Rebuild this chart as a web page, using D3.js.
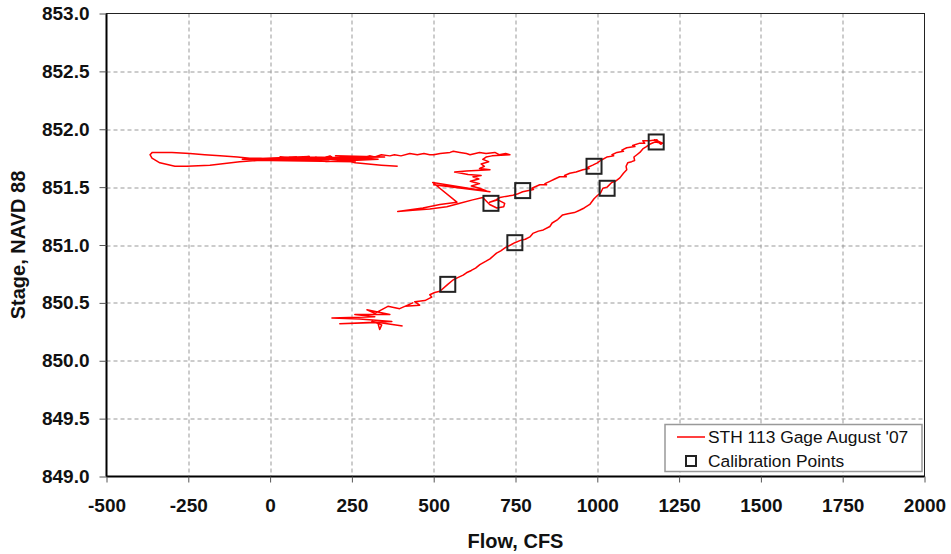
<!DOCTYPE html>
<html>
<head>
<meta charset="utf-8">
<script src="https://cdn.jsdelivr.net/npm/d3@7"></script>
<style>
  body { margin: 0; background: #fff; }
  svg { font-family: "Liberation Sans", Arial, sans-serif; }
</style>
</head>
<body>
<div id="chart"></div>
<script>
// gage record: flow (cfs) and stage (ft, NAVD 88), in time order
const gageFlow = [
  // low start, rising
  405, 311, 341, 335, 329, 213, 372, 274, 189, 320, 259, 366, 296, 320, 360, 396, 436, 412, 457, 442, 473, 494, 488, 503, 519, 543,
  560, 575, 590, 600, 615, 628, 641, 660, 672, 692, 705, 720, 735, 748, 765, 780, 794, 803, 820, 835, 855, 862, 879, 894, 910, 930,
  946, 960, 977, 990, 1001, 1010, 1017, 1030, 1044, 1055, 1069, 1080, 1090, 1088, 1093, 1105, 1114, 1112, 1121, 1130, 1139, 1150,
  1160, 1176, 1200, 1175, 1195, 1185,
  // falling
  1182, 1160, 1139, 1145, 1130, 1108, 1115, 1090, 1075, 1080, 1060, 1045, 1050, 1029, 1010, 1000, 986, 970, 975, 956, 935, 916,
  900, 905, 885, 870, 855, 840, 845, 824, 800, 805, 772, 755, 742, 720, 702, 690, 671,
  696, 717, 714, 693, 671, 650, 619, 580, 540, 488, 436, 390,
  467, 519, 571, 497, 672, 500, 660, 640, 615, 640, 612, 638, 620, 645, 605, 564, 600, 672, 640, 655, 645, 668, 650, 660, 678, 733,
  // upper band going left
  720, 700, 687, 660, 640, 611, 600, 580, 560, 550, 520, 500, 488, 470, 450, 427, 400, 380, 366, 340, 320, 305, 280, 260, 244, 220,
  200, 183, 160, 140, 122, 100, 80, 60, 40, 20, 0, -30, -62, -100, -153, -200, -245, -300, -337,
  -360, -367, -361, -337, -291, -255, -184, -93, -40, -1, 40,
  150, 30, 200, 60, 250, 90, 280, 120, 300, 170, 330, 200, 350, -60, 180, -85, 120, 0, 260, 230, 260, 300, 340, 390
];
const gageStage = [
  850.30, 850.34, 850.31, 850.27, 850.33, 850.32, 850.34, 850.36, 850.37, 850.38, 850.40, 850.40, 850.44, 850.41, 850.47, 850.45, 850.50, 850.47, 850.48, 850.51, 850.52, 850.55, 850.57, 850.59, 850.60, 850.66,
  850.70, 850.72, 850.74, 850.76, 850.78, 850.80, 850.83, 850.86, 850.88, 850.93, 850.95, 850.98, 851.00, 851.02, 851.04, 851.05, 851.07, 851.10, 851.12, 851.13, 851.16, 851.19, 851.22, 851.26, 851.27, 851.28,
  851.30, 851.32, 851.35, 851.40, 851.43, 851.45, 851.49, 851.50, 851.54, 851.55, 851.58, 851.62, 851.65, 851.68, 851.71, 851.72, 851.73, 851.76, 851.78, 851.80, 851.83, 851.85,
  851.87, 851.89, 851.88, 851.91, 851.87, 851.90,
  851.91, 851.90, 851.90, 851.88, 851.88, 851.86, 851.85, 851.84, 851.82, 851.81, 851.80, 851.78, 851.77, 851.76, 851.73, 851.71, 851.69, 851.67, 851.66, 851.65, 851.63, 851.62,
  851.60, 851.59, 851.59, 851.57, 851.55, 851.53, 851.52, 851.52, 851.49, 851.48, 851.46, 851.44, 851.43, 851.42, 851.41, 851.39, 851.37,
  851.39, 851.36, 851.33, 851.32, 851.35, 851.41, 851.39, 851.36, 851.33, 851.31, 851.30, 851.29,
  851.32, 851.35, 851.37, 851.54, 851.46, 851.52, 851.47, 851.49, 851.51, 851.53, 851.55, 851.57, 851.59, 851.60, 851.61, 851.63, 851.64, 851.65, 851.66, 851.68, 851.70, 851.72, 851.74, 851.76, 851.77, 851.78,
  851.79, 851.78, 851.80, 851.79, 851.80, 851.78, 851.79, 851.80, 851.81, 851.80, 851.79, 851.78, 851.78, 851.79, 851.78, 851.79, 851.77, 851.78, 851.77, 851.78, 851.76, 851.77, 851.75, 851.76, 851.75, 851.76,
  851.74, 851.77, 851.75, 851.76, 851.75, 851.74, 851.76, 851.76, 851.75, 851.74, 851.74, 851.75, 851.75, 851.76, 851.77, 851.78, 851.79, 851.80, 851.80,
  851.80, 851.78, 851.75, 851.71, 851.68, 851.68, 851.69, 851.72, 851.73, 851.73, 851.74,
  851.74, 851.76, 851.75, 851.73, 851.76, 851.74, 851.74, 851.76, 851.75, 851.72, 851.74, 851.77, 851.76, 851.745, 851.725, 851.74, 851.765, 851.73, 851.72, 851.73, 851.71, 851.70, 851.69, 851.68
];

// calibration measurements
const calFlow  = [543, 748, 675, 772, 990, 1030, 1180];
const calStage = [850.66, 851.02, 851.36, 851.47, 851.68, 851.49, 851.89];

const xTicks = [-500, -250, 0, 250, 500, 750, 1000, 1250, 1500, 1750, 2000];
const yTicks = [849.0, 849.5, 850.0, 850.5, 851.0, 851.5, 852.0, 852.5, 853.0];

const width = 951, height = 554;
const margin = { top: 13.5, right: 26.5, bottom: 77.5, left: 106.5 };
const innerW = width - margin.left - margin.right;
const innerH = height - margin.top - margin.bottom;

const svg = d3.select("#chart")
    .append("svg")
    .attr("width", width)
    .attr("height", height);

const chart = svg.append("g")
    .attr("transform", `translate(${margin.left}, ${margin.top})`);

const x = d3.scaleLinear().domain([-500, 2000]).range([0, innerW]);
const y = d3.scaleLinear().domain([849, 853]).range([innerH, 0]);

// grid
chart.append("g")
    .selectAll("line")
    .data(xTicks.slice(1, -1))
    .join("line")
    .attr("x1", d => Math.round(x(d)) + 0.5)
    .attr("x2", d => Math.round(x(d)) + 0.5)
    .attr("y1", 0)
    .attr("y2", innerH)
    .attr("stroke", "#999")
    .attr("stroke-dasharray", "4,3");

chart.append("g")
    .selectAll("line")
    .data(yTicks.slice(1, -1))
    .join("line")
    .attr("x1", 0)
    .attr("x2", innerW)
    .attr("y1", d => Math.round(y(d)) + 0.5)
    .attr("y2", d => Math.round(y(d)) + 0.5)
    .attr("stroke", "#999")
    .attr("stroke-dasharray", "4,3");

// plot border (top / right thin)
chart.append("rect")
    .attr("x", 0).attr("y", 0)
    .attr("width", innerW).attr("height", innerH)
    .attr("fill", "none")
    .attr("stroke", "#222")
    .attr("stroke-width", 1);

// axes -- plain hyphen for negatives, like the original
const xAxis = chart.append("g")
    .attr("transform", `translate(0, ${innerH})`)
    .call(d3.axisBottom(x).tickValues(xTicks).tickSize(6).tickPadding(16).tickFormat(d => String(d)));

const yAxis = chart.append("g")
    .call(d3.axisLeft(y).tickValues(yTicks).tickSize(7).tickPadding(10).tickFormat(d => d.toFixed(1)));

[xAxis, yAxis].forEach(ax => {
    ax.select(".domain").attr("stroke", "#000").attr("stroke-width", 2);
    ax.selectAll(".tick line").attr("stroke", "#555");
    ax.selectAll(".tick text")
        .attr("fill", "#111")
        .style("font-size", "19px")
        .style("font-weight", "bold")
        .style("font-family", "'Liberation Sans', Arial, sans-serif");
});
xAxis.select(".domain").attr("d", `M0,0H${innerW}`);
yAxis.select(".domain").attr("d", `M0,0V${innerH}`);

// gage trace
const gage = gageFlow.map((f, i) => ({ flow: f, stage: gageStage[i] }));

const lineGen = d3.line()
    .x(d => x(d.flow))
    .y(d => y(d.stage));

chart.append("path")
    .datum(gage)
    .attr("fill", "none")
    .attr("stroke", "#ff0000")
    .attr("stroke-width", 1.5)
    .attr("stroke-linejoin", "round")
    .attr("d", lineGen);

// calibration squares
const cal = calFlow.map((f, i) => ({ flow: f, stage: calStage[i] }));
const sq = 15;

chart.append("g")
    .selectAll("rect")
    .data(cal)
    .join("rect")
    .attr("x", d => x(d.flow) - sq / 2)
    .attr("y", d => y(d.stage) - sq / 2)
    .attr("width", sq)
    .attr("height", sq)
    .attr("fill", "none")
    .attr("stroke", "#222")
    .attr("stroke-width", 2);

// axis titles
svg.append("text")
    .attr("x", margin.left + x(750))
    .attr("y", 548)
    .attr("text-anchor", "middle")
    .style("font-size", "20px")
    .style("font-weight", "bold")
    .attr("fill", "#111")
    .text("Flow, CFS");

svg.append("text")
    .attr("transform", `translate(25, ${margin.top + innerH / 2}) rotate(-90)`)
    .attr("text-anchor", "middle")
    .style("font-size", "20px")
    .style("font-weight", "bold")
    .attr("fill", "#111")
    .text("Stage, NAVD 88");

// legend
const legend = svg.append("g").attr("transform", "translate(665, 424.5)");

legend.append("rect")
    .attr("width", 257)
    .attr("height", 47)
    .attr("fill", "#fff")
    .attr("stroke", "#999")
    .attr("stroke-width", 1.5);

legend.append("line")
    .attr("x1", 12).attr("x2", 40)
    .attr("y1", 12.5).attr("y2", 12.5)
    .attr("stroke", "#ff0000")
    .attr("stroke-width", 1.5);

legend.append("rect")
    .attr("x", 21).attr("y", 31.5)
    .attr("width", 10).attr("height", 10)
    .attr("fill", "none")
    .attr("stroke", "#222")
    .attr("stroke-width", 2);

legend.append("text")
    .attr("x", 43).attr("y", 18.5)
    .style("font-size", "17.4px")
    .attr("fill", "#111")
    .text("STH 113 Gage August '07");

legend.append("text")
    .attr("x", 43).attr("y", 42)
    .style("font-size", "17.4px")
    .attr("fill", "#111")
    .text("Calibration Points");
</script>
</body>
</html>
